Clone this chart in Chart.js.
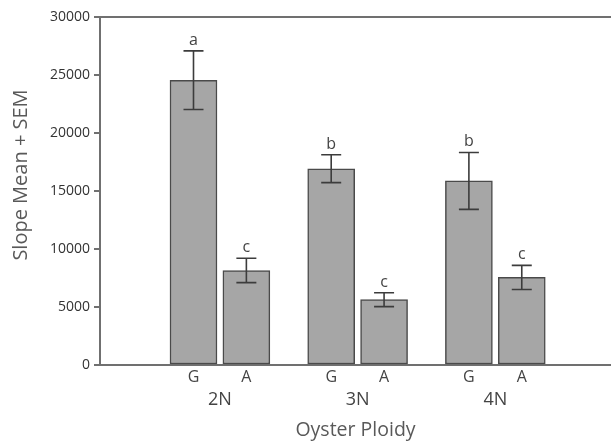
<!DOCTYPE html>
<html>
<head>
<meta charset="utf-8">
<script src="https://cdn.jsdelivr.net/npm/chart.js@4"></script>
<style>
  body { margin: 0; background: #fff; }
  canvas { display: block; }
</style>
</head>
<body>
<canvas id="chart" width="611" height="442"></canvas>
<script>
// groups along the x axis
const groups = ['2N', '3N', '4N'];
const group_pos = [1, 2, 3];
const treatments = ['G', 'A'];
const treatment_offset = [-0.192, 0.192];

// slope means and SEM, per group, per treatment (G then A)
const mean_g = [24550, 16920, 15870];
const mean_a = [8150, 5630, 7550];
const sem_g = [2530, 1200, 2450];
const sem_a = [1050, 600, 1040];
const letters_g = ['a', 'b', 'b'];
const letters_a = ['c', 'c', 'c'];

const y_ticks = [0, 5000, 10000, 15000, 20000, 25000, 30000];
const y_title = 'Slope Mean + SEM';

const FONT = '"Open Sans", "Noto Sans", sans-serif';
const AXIS_COLOR = '#707070';

let bars = [];
let sems = [];
let letters = [];
let tick_pos = [];
let tick_text = [];
for (let i = 0; i < groups.length; i++) {
  const means = [mean_g[i], mean_a[i]];
  const errs = [sem_g[i], sem_a[i]];
  const lets = [letters_g[i], letters_a[i]];
  for (let j = 0; j < treatments.length; j++) {
    const x = group_pos[i] + treatment_offset[j];
    bars.push({x: x, y: means[j]});
    sems.push(errs[j]);
    letters.push(lets[j]);
    tick_pos.push(x);
    tick_text.push(treatments[j]);
  }
}

const error_bars = {
  id: 'error_bars',
  afterDatasetsDraw(chart) {
    const ctx = chart.ctx;
    const xs = chart.scales.x;
    const ys = chart.scales.y;
    ctx.save();
    ctx.strokeStyle = '#3c3c3c';
    ctx.lineWidth = 1.6;
    ctx.fillStyle = '#444';
    ctx.font = '16px ' + FONT;
    ctx.textAlign = 'center';
    ctx.textBaseline = 'alphabetic';
    bars.forEach((b, i) => {
      const px = xs.getPixelForValue(b.x);
      const top = ys.getPixelForValue(b.y + sems[i]);
      const bottom = ys.getPixelForValue(b.y - sems[i]);
      ctx.beginPath();
      ctx.moveTo(px, top);
      ctx.lineTo(px, bottom);
      ctx.moveTo(px - 10, top);
      ctx.lineTo(px + 10, top);
      ctx.moveTo(px - 10, bottom);
      ctx.lineTo(px + 10, bottom);
      ctx.stroke();
      ctx.fillText(letters[i], px, top - 6);
    });
    ctx.restore();
  }
};

// y title sits a little above the middle of the axis in the original
const side_title = {
  id: 'side_title',
  afterDraw(chart) {
    const ctx = chart.ctx;
    const area = chart.chartArea;
    ctx.save();
    ctx.translate(21, (area.top + area.bottom) / 2 - 16);
    ctx.rotate(-Math.PI / 2);
    ctx.fillStyle = '#595959';
    ctx.font = '20px ' + FONT;
    ctx.textAlign = 'center';
    ctx.textBaseline = 'middle';
    ctx.fillText(y_title, 0, 0);
    ctx.restore();
  }
};

new Chart(document.getElementById('chart'), {
  type: 'bar',
  data: {
    datasets: [{
      data: bars,
      backgroundColor: '#a6a6a6',
      borderColor: '#4a4a4a',
      borderWidth: 1.5,
      borderSkipped: false,
      barThickness: 47
    }]
  },
  options: {
    responsive: false,
    animation: false,
    layout: { padding: { top: 17, right: 0, left: 0, bottom: 0 } },
    plugins: {
      legend: { display: false },
      tooltip: { enabled: false }
    },
    scales: {
      x: {
        type: 'linear',
        min: 0.129,
        max: 3.84,
        offset: false,
        weight: 0,
        grid: { display: false, drawTicks: false, offset: false },
        border: { display: true, color: AXIS_COLOR, width: 2 },
        afterBuildTicks: scale => {
          scale.ticks = tick_pos.map(v => ({value: v}));
        },
        ticks: {
          padding: 3,
          color: '#444',
          font: { family: FONT, size: 16 },
          maxRotation: 0,
          autoSkip: false,
          callback: (value, index) => tick_text[index]
        },
        afterFit: scale => { scale.height = 22; }
      },
      x2: {
        type: 'linear',
        position: 'bottom',
        min: 0.129,
        max: 3.84,
        offset: false,
        weight: 1,
        grid: { display: false, drawTicks: false, offset: false },
        border: { display: false },
        afterBuildTicks: scale => {
          scale.ticks = group_pos.map(v => ({value: v}));
        },
        ticks: {
          padding: 2,
          color: '#444',
          font: { family: FONT, size: 18 },
          maxRotation: 0,
          autoSkip: false,
          callback: (value, index) => groups[index]
        },
        title: {
          display: true,
          text: 'Oyster Ploidy',
          color: '#595959',
          font: { family: FONT, size: 19.5 },
          padding: { top: 0, bottom: 0 }
        },
        afterFit: scale => { scale.height = 55; }
      },
      y: {
        min: 0,
        max: 30000,
        afterBuildTicks: scale => {
          scale.ticks = y_ticks.map(v => ({value: v}));
        },
        grid: {
          color: c => (c.tick && c.tick.value === 30000 ? AXIS_COLOR : 'rgba(0,0,0,0)'),
          tickColor: AXIS_COLOR,
          tickLength: 6,
          lineWidth: 2
        },
        border: { display: true, color: AXIS_COLOR, width: 2 },
        ticks: {
          padding: 4,
          color: '#333',
          font: { family: FONT, size: 14 },
          callback: v => '' + v
        },
        afterFit: scale => { scale.width = 100; }
      }
    }
  },
  plugins: [error_bars, side_title]
});
</script>
</body>
</html>
